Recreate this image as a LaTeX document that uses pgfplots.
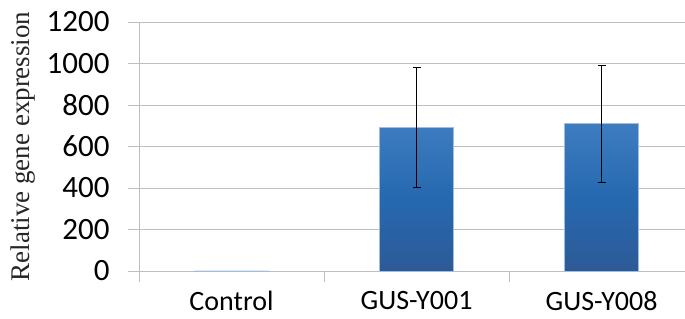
\documentclass[border=0pt]{standalone}
\usepackage{fontspec}
\setmainfont{Carlito}
\newfontfamily\seriffont{Liberation Serif}
\usepackage{pgfplots}
\pgfplotsset{compat=1.18}
\definecolor{gridc}{RGB}{190,190,190}
\definecolor{bartop}{RGB}{62,124,192}
\definecolor{barmid}{RGB}{38,105,176}
\definecolor{barbot}{RGB}{45,90,150}
\begin{document}
\begin{tikzpicture}
\path[use as bounding box] (0,0) rectangle (685bp,319bp);
\begin{axis}[
  at={(139bp,48bp)}, anchor=south west,
  scale only axis, width=546bp, height=249bp,
  xmin=-0.5, xmax=2.451, ymin=0, ymax=1200,
  ytick={0,200,...,1200},
  /pgf/number format/1000 sep={},
  /pgf/number format/assume math mode=true,
  ymajorgrids, grid style={gridc, line width=0.8bp},
  axis lines*=left,
  axis line style={gridc, line width=0.8bp, -},
  tick align=outside,
  major tick length=11bp,
  tick style={gridc, line width=0.8bp},
  xtick={-0.5,0.5,1.5},
  xticklabels={},
  extra x ticks={0,1,2},
  extra x tick labels={Control,GUS-Y001,GUS-Y008},
  extra x tick style={major tick length=0pt, tick style={draw=none}},
  xticklabel style={font=\fontsize{28bp}{30bp}\selectfont, text=black, yshift=-17bp},
  yticklabel style={font=\fontsize{31bp}{33bp}\selectfont, text=black, xshift=-15bp},
  ylabel={Relative gene expression},
  ylabel style={font=\seriffont\fontsize{27bp}{30bp}\selectfont, text=black!85, at={(axis description cs:-0.2125,0.5)}, anchor=center, rotate=0},
  clip=false,
]
\addplot[ybar, bar width=0.4, draw=bartop!50!white, line width=0.5bp,
  top color=bartop, bottom color=barbot, middle color=barmid,
  error bars/.cd, y dir=both, y explicit,
  error bar style={black, line width=0.8bp},
  error mark options={black, rotate=90, mark size=4bp, line width=0.8bp}]
  coordinates {
  (0,1)
  (1,691) += (0,290) -= (0,286)
  (2,710) += (0,281) -= (0,283)
  };
\end{axis}
\end{tikzpicture}
\end{document}
